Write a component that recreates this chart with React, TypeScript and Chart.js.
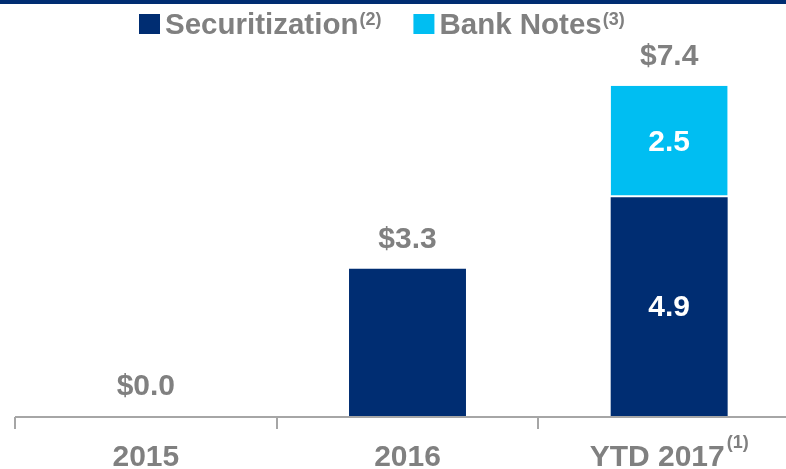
import React, { useEffect, useRef } from "react";
import { Chart, registerables } from "chart.js";

Chart.register(...registerables);

const categories = ["2015", "2016", "YTD 2017"];
const categorySups = ["", "", "(1)"];
const securitization = [0, 3.3, 4.9];
const bankNotes = [0, 0, 2.5];
const totals = [0.0, 3.3, 7.4];
const seriesNames = ["Securitization", "Bank Notes"];
const seriesSups = ["(2)", "(3)"];

const NAVY = "#002D72";
const CYAN = "#00BEF2";
const GRAY = "#808080";
const AXIS = "#A6A6A6";
const FONT = "'Liberation Sans', Arial, sans-serif";

const drawPlugin = {
  id: "customDraw",
  afterDatasetsDraw(chart: any) {
    const ctx = chart.ctx as CanvasRenderingContext2D;
    const area = chart.chartArea;
    const xs = chart.scales.x;
    const ys = chart.scales.y;
    ctx.save();

    // axis line + ticks
    ctx.strokeStyle = AXIS;
    ctx.lineWidth = 2;
    const yb = Math.round(area.bottom) + 1;
    ctx.beginPath();
    ctx.moveTo(area.left, yb);
    ctx.lineTo(area.right + 20, yb);
    const w = (area.right - area.left) / categories.length;
    for (let i = 0; i <= categories.length; i++) {
      const x = Math.round(area.left + w * i);
      ctx.moveTo(x, yb);
      ctx.lineTo(x, yb + 12);
    }
    ctx.stroke();

    // category labels
    ctx.fillStyle = GRAY;
    ctx.textBaseline = "alphabetic";
    categories.forEach((c, i) => {
      const cx = xs.getPixelForValue(i);
      ctx.font = `bold 30px ${FONT}`;
      const tw = ctx.measureText(c).width;
      ctx.font = `bold 18px ${FONT}`;
      const sw = categorySups[i] ? ctx.measureText(categorySups[i]).width + 2 : 0;
      const start = cx - (tw + sw) / 2;
      ctx.font = `bold 30px ${FONT}`;
      ctx.textAlign = "left";
      ctx.fillText(c, start, 466);
      if (categorySups[i]) {
        ctx.font = `bold 18px ${FONT}`;
        ctx.fillText(categorySups[i], start + tw + 2, 448);
      }
    });

    // totals above bars
    ctx.textAlign = "center";
    ctx.textBaseline = "middle";
    ctx.font = `bold 30px ${FONT}`;
    ctx.fillStyle = GRAY;
    totals.forEach((t, i) => {
      const cx = xs.getPixelForValue(i);
      const top = ys.getPixelForValue(securitization[i] + bankNotes[i]);
      ctx.fillText("$" + t.toFixed(1), cx, top - 29);
    });

    // inside labels for stacked bar
    ctx.fillStyle = "#FFFFFF";
    categories.forEach((_, i) => {
      if (bankNotes[i] > 0) {
        const cx = xs.getPixelForValue(i);
        const y0 = ys.getPixelForValue(0);
        const y1 = ys.getPixelForValue(securitization[i]);
        const y2 = ys.getPixelForValue(securitization[i] + bankNotes[i]);
        ctx.fillText(securitization[i].toFixed(1), cx, (y0 + y1) / 2 + 1);
        ctx.fillText(bankNotes[i].toFixed(1), cx, (y1 + y2) / 2 + 1);
      }
    });

    // legend
    const colors = [NAVY, CYAN];
    let x = 139;
    ctx.textAlign = "left";
    ctx.textBaseline = "alphabetic";
    seriesNames.forEach((n, i) => {
      ctx.fillStyle = colors[i];
      ctx.fillRect(x, 14, 21, 20);
      x += 26;
      ctx.fillStyle = GRAY;
      ctx.font = `bold 29.5px ${FONT}`;
      ctx.fillText(n, x, 34);
      x += ctx.measureText(n).width + 1;
      ctx.font = `bold 18px ${FONT}`;
      ctx.fillText(seriesSups[i], x, 25);
      x += ctx.measureText(seriesSups[i]).width + 32;
    });

    ctx.restore();
  },
};

export default function App() {
  const ref = useRef<HTMLCanvasElement | null>(null);
  useEffect(() => {
    document.documentElement.style.overflow = "hidden";
    document.body.style.margin = "0";
    document.body.style.overflow = "hidden";
    const chart = new Chart(ref.current!, {
      type: "bar",
      data: {
        labels: categories,
        datasets: [
          {
            label: seriesNames[0],
            data: securitization,
            backgroundColor: NAVY,
            borderWidth: 0,
            barPercentage: 1,
            categoryPercentage: 0.447,
          },
          {
            label: seriesNames[1],
            data: bankNotes,
            backgroundColor: CYAN,
            borderColor: "#FFFFFF",
            borderSkipped: false,
            borderWidth: { top: 0, left: 0, right: 0, bottom: 2 },
            barPercentage: 1,
            categoryPercentage: 0.447,
          },
        ],
      },
      plugins: [drawPlugin],
      options: {
        animation: false,
        responsive: false,
        maintainAspectRatio: false,
        layout: { padding: { top: 59, bottom: 53, left: 15, right: 0 } },
        plugins: { legend: { display: false }, tooltip: { enabled: false } },
        scales: {
          x: { display: false, stacked: true },
          y: { display: false, stacked: true, min: 0, max: 8 },
        },
      },
    });
    return () => chart.destroy();
  }, []);
  return (
    <div style={{ position: "relative", width: 786, height: 469, overflow: "hidden" }}>
      <div style={{ position: "absolute", left: 0, top: 0, width: 786, height: 4, background: NAVY }} />
      <canvas ref={ref} width={800} height={469} style={{ position: "absolute", left: 0, top: 0 }} />
    </div>
  );
}
